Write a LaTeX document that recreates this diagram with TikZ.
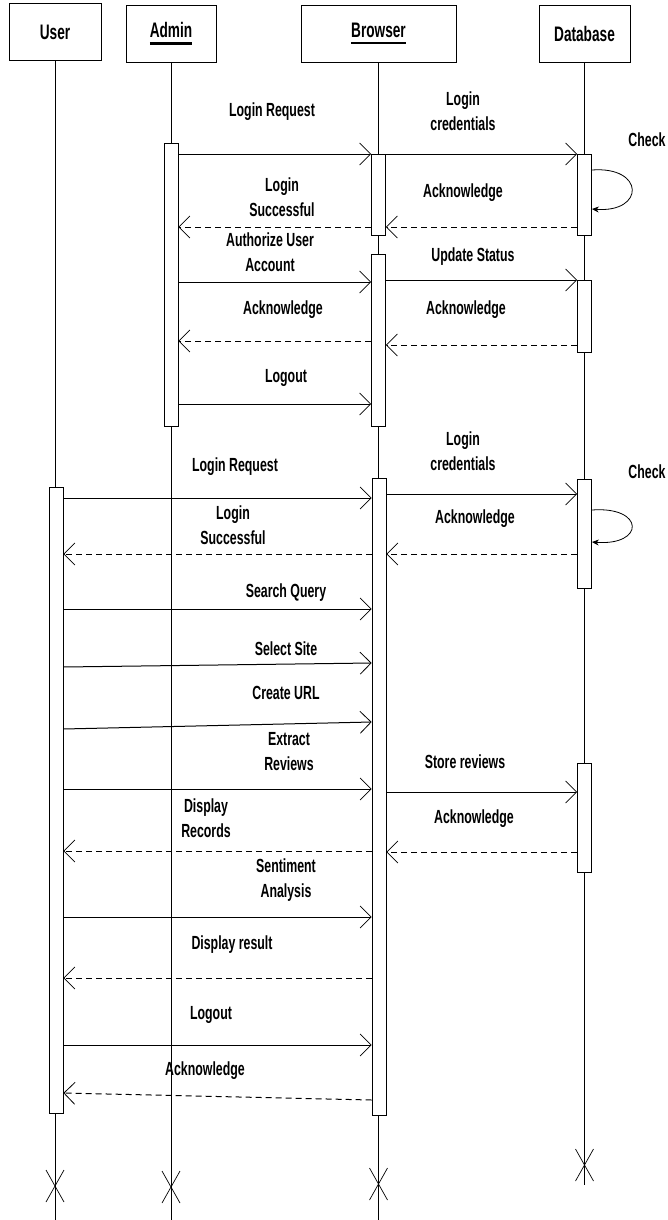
\documentclass[tikz,border=0pt]{standalone}
\usepackage{fontspec}
\setmainfont{Liberation Sans}[FakeStretch=0.65]
\usetikzlibrary{arrows.meta}
\newcommand{\ulhead}[1]{\setbox0\hbox{#1}\rlap{\rule[-7pt]{\wd0}{2.5pt}}\box0}

\begin{document}
\begin{tikzpicture}[x=1pt, y=-1pt,
  head/.style={draw, line width=0.8pt, minimum height=57pt, inner sep=0pt, font=\fontsize{21}{23}\selectfont\bfseries},
  act/.style={draw, fill=white, minimum width=14pt, inner sep=0pt, anchor=north, line width=0.7pt},
  life/.style={line width=0.7pt},
  msg/.style={line width=1pt, -{Straight Barb[length=11pt, width=22pt, line width=0.8pt]}},
  reply/.style={msg, dash pattern=on 6pt off 4pt},
  lbl/.style={font=\fontsize{19}{25}\selectfont\bfseries, align=center, inner sep=0pt},
  selfloop/.style={line width=0.8pt, -{Stealth[length=7pt, width=6pt]}}]

\useasboundingbox (0,0) rectangle (668,1220);

% Heads
\node[head, minimum width=92pt] (usr) at (55,32) {User};
\node[head, minimum width=90pt] (adm) at (171,33.5) {\ulhead{Admin}};
\node[head, minimum width=155pt] (brw) at (378.5,33.5) {\ulhead{Browser}};
\node[head, minimum width=91pt] (db) at (584.5,33.5) {Database};

% Lifelines
\draw[life] (usr.south) -- (usr.south |- 0,1220);
\draw[life] (adm.south) -- (adm.south |- 0,1220);
\draw[life] (brw.south) -- (brw.south |- 0,1220);
\draw[life] (db.south) -- (db.south |- 0,1185);
\foreach \lx/\ly in {55/1186, 171/1187, 378.5/1184, 584.5/1165}
  \draw[life] (\lx-9,\ly-16) -- (\lx+9,\ly+16) (\lx+9,\ly-16) -- (\lx-9,\ly+16);

% Activations
\node[act, minimum height=283pt] (adm1) at (171,143) {};
\node[act, minimum height=81pt] (brw1) at (378.5,154) {};
\node[act, minimum height=81pt] (db1) at (584.5,154) {};
\node[act, minimum height=172pt] (brw2) at (378.5,254) {};
\node[act, minimum height=72pt] (db2) at (584.5,280) {};
\node[act, minimum height=626pt] (usr1) at (56,487) {};
\node[act, minimum height=637pt] (brw3) at (379,478) {};
\node[act, minimum height=109pt] (db3) at (584.5,479) {};
\node[act, minimum height=109pt] (db4) at (584.5,763) {};

% Admin session
\draw[msg] (adm1.east |- 0,154) -- (brw1.west |- 0,154);
\node[lbl] (l1) at (272,112) {Login Request};
\draw[msg] (brw1.east |- 0,154) -- (db1.west |- 0,154);
\node[lbl] (l2) at (463,111) {Login\\credentials};
\draw[selfloop] (db1.east |- 0,170) .. controls (645,166) and (645,213) .. (db1.east |- 0,209);
\node[lbl] (l3) at (647,140) {Check};
\draw[reply] (brw1.west |- 0,227) -- (adm1.east |- 0,227);
\node[lbl] (l4) at (282,197) {Login\\Successful};
\draw[reply] (db1.west |- 0,227) -- (brw1.east |- 0,227);
\node[lbl] (l5) at (463,193) {Acknowledge};
\draw[msg] (adm1.east |- 0,282) -- (brw2.west |- 0,282);
\node[lbl] (l6) at (270,252) {Authorize User\\Account};
\draw[msg] (brw2.east |- 0,280) -- (db2.west |- 0,280);
\node[lbl] (l7) at (473,257) {Update Status};
\draw[reply] (brw2.west |- 0,341) -- (adm1.east |- 0,341);
\node[lbl] (l8) at (283,310) {Acknowledge};
\draw[reply] (db2.west |- 0,345) -- (brw2.east |- 0,345);
\node[lbl] (l9) at (466,310) {Acknowledge};
\draw[msg] (adm1.east |- 0,404) -- (brw2.west |- 0,404);
\node[lbl] (l10) at (286,378) {Logout};

% User session
\draw[msg] (usr1.east |- 0,498) -- (brw3.west |- 0,498);
\node[lbl] (l11) at (235,467) {Login Request};
\draw[msg] (brw3.east |- 0,494) -- (db3.west |- 0,494);
\node[lbl] (l12) at (463,451) {Login\\credentials};
\draw[selfloop] (db3.east |- 0,510) .. controls (645,506) and (645,546) .. (db3.east |- 0,542);
\node[lbl] (l13) at (647,472) {Check};
\draw[reply] (brw3.west |- 0,554) -- (usr1.east |- 0,554);
\node[lbl] (l14) at (233,525) {Login\\Successful};
\draw[reply] (db3.west |- 0,554) -- (brw3.east |- 0,554);
\node[lbl] (l15) at (475,519) {Acknowledge};
\draw[msg] (usr1.east |- 0,609) -- (brw3.west |- 0,609);
\node[lbl] (l16) at (286,593) {Search Query};
\draw[msg] (usr1.east |- 0,667) -- (brw3.west |- 0,663);
\node[lbl] (l17) at (286,649) {Select Site};
\draw[msg] (usr1.east |- 0,729) -- (brw3.west |- 0,722);
\node[lbl] (l18) at (286,693) {Create URL};
\draw[msg] (usr1.east |- 0,789) -- (brw3.west |- 0,789);
\node[lbl] (l19) at (289,752) {Extract\\Reviews};
\draw[msg] (brw3.east |- 0,792) -- (db4.west |- 0,792);
\node[lbl] (l20) at (465,762) {Store reviews};
\draw[reply] (brw3.west |- 0,851) -- (usr1.east |- 0,851);
\node[lbl] (l21) at (206,818) {Display\\Records};
\draw[reply] (db4.west |- 0,852) -- (brw3.east |- 0,852);
\node[lbl] (l22) at (474,819) {Acknowledge};
\draw[msg] (usr1.east |- 0,917) -- (brw3.west |- 0,917);
\node[lbl] (l23) at (286,880) {Sentiment\\Analysis};
\draw[reply] (brw3.west |- 0,978) -- (usr1.east |- 0,978);
\node[lbl] (l24) at (232,945) {Display result};
\draw[msg] (usr1.east |- 0,1045) -- (brw3.west |- 0,1045);
\node[lbl] (l25) at (211,1015) {Logout};
\draw[reply] (brw3.west |- 0,1100) -- (usr1.east |- 0,1093);
\node[lbl] (l26) at (205,1071) {Acknowledge};

\end{tikzpicture}
\end{document}
